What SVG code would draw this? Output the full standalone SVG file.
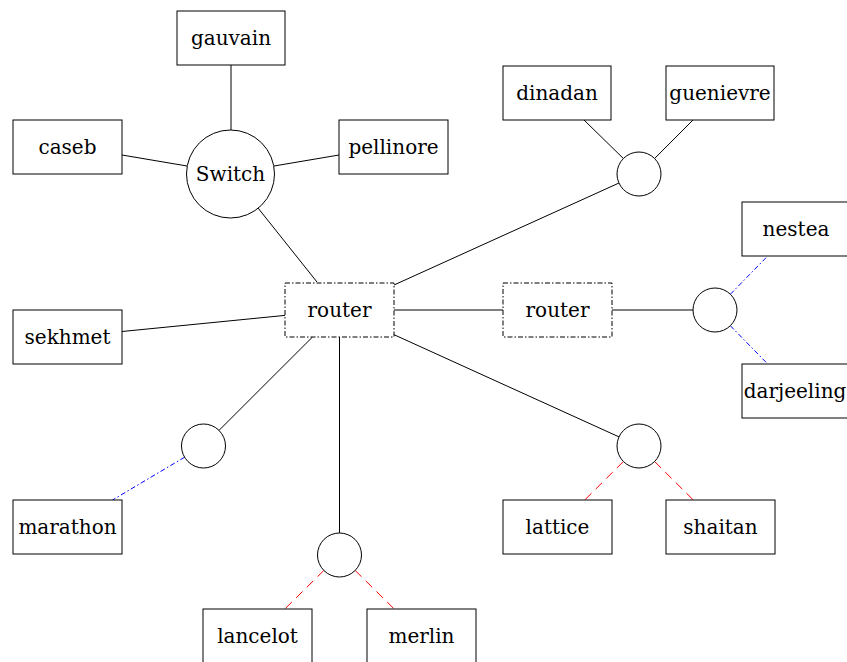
<svg xmlns="http://www.w3.org/2000/svg" width="847" height="662" viewBox="0 0 847 662">
<style>
.box{fill:#fff;stroke:#000;stroke-width:1}
.rt{fill:#fff;stroke:#000;stroke-width:1;stroke-dasharray:5 2 1.5 2}
.hub{fill:#fff;stroke:#000;stroke-width:1}
.t{font-family:"DejaVu Serif","Liberation Serif",serif;font-size:20px;text-anchor:middle;fill:#000}
.c{stroke:#000;stroke-width:1;fill:none}
.red{stroke:#ff0000;stroke-width:1;stroke-dasharray:9 6;fill:none}
.blue{stroke:#0000ff;stroke-width:1;stroke-dasharray:5 2.5 1.5 2.5;fill:none}
</style>
<rect width="847" height="662" fill="#fff"/>
<g id="connectors">
<line class="c" x1="231" y1="65" x2="231" y2="130"/>
<line class="c" x1="122" y1="155" x2="187" y2="166"/>
<line class="c" x1="274" y1="166" x2="339" y2="155"/>
<line class="c" x1="258" y1="208" x2="317" y2="282"/>
<line class="c" x1="394" y1="285" x2="619" y2="183"/>
<line class="c" x1="584" y1="120" x2="623.4" y2="158.5"/>
<line class="c" x1="693" y1="120" x2="654.6" y2="158.5"/>
<line class="c" x1="394" y1="310" x2="503" y2="310"/>
<line class="c" x1="612" y1="310" x2="693" y2="310"/>
<line class="blue" x1="730.4" y1="294.2" x2="767.7" y2="256"/>
<line class="blue" x1="730.4" y1="325.8" x2="767.7" y2="364"/>
<line class="c" x1="285" y1="315.4" x2="122" y2="331.5"/>
<line class="c" x1="312.5" y1="337" x2="219" y2="430.4"/>
<line class="blue" x1="184.6" y1="457.2" x2="112.5" y2="500"/>
<line class="c" x1="339.5" y1="337" x2="339.5" y2="533"/>
<line class="red" x1="323.9" y1="570.4" x2="284.8" y2="609"/>
<line class="red" x1="355.1" y1="570.4" x2="394.2" y2="609"/>
<line class="c" x1="394" y1="334.7" x2="619" y2="436.9"/>
<line class="red" x1="623.4" y1="461.5" x2="584.7" y2="500"/>
<line class="red" x1="654.6" y1="461.5" x2="693.3" y2="500"/>
</g>
<g id="gauvain"><rect class="box" x="177" y="11" width="108" height="54"/><text class="t" x="231" y="45">gauvain</text></g>
<g id="caseb"><rect class="box" x="13" y="120" width="109" height="54"/><text class="t" x="67.5" y="154">caseb</text></g>
<g id="pellinore"><rect class="box" x="339" y="120" width="109" height="54"/><text class="t" x="393.5" y="154">pellinore</text></g>
<g id="switch"><circle class="hub" cx="230.5" cy="174" r="44"/><text class="t" x="230.5" y="181">Switch</text></g>
<g id="dinadan"><rect class="box" x="503" y="66" width="108" height="54"/><text class="t" x="557" y="100">dinadan</text></g>
<g id="guenievre"><rect class="box" x="666" y="66" width="108" height="54"/><text class="t" x="720" y="100">guenievre</text></g>
<g id="hub-top"><circle class="hub" cx="639" cy="174" r="22"/></g>
<g id="nestea"><rect class="box" x="742" y="202" width="108" height="54"/><text class="t" x="796" y="236">nestea</text></g>
<g id="hub-right"><circle class="hub" cx="715" cy="310" r="22"/></g>
<g id="darjeeling"><rect class="box" x="742" y="364" width="108" height="54"/><text class="t" x="795" y="398">darjeeling</text></g>
<g id="router1"><rect class="rt" x="285" y="283" width="109" height="54"/><text class="t" x="339.5" y="317">router</text></g>
<g id="router2"><rect class="rt" x="503" y="283" width="109" height="54"/><text class="t" x="557.5" y="317">router</text></g>
<g id="sekhmet"><rect class="box" x="13" y="310" width="109" height="54"/><text class="t" x="67.5" y="344">sekhmet</text></g>
<g id="hub-left"><circle class="hub" cx="203.5" cy="446" r="22"/></g>
<g id="marathon"><rect class="box" x="13" y="500" width="109" height="54"/><text class="t" x="67.5" y="534">marathon</text></g>
<g id="hub-bottom"><circle class="hub" cx="339.5" cy="555" r="22"/></g>
<g id="lancelot"><rect class="box" x="203" y="609" width="109" height="54"/><text class="t" x="257.5" y="643">lancelot</text></g>
<g id="merlin"><rect class="box" x="367" y="609" width="109" height="54"/><text class="t" x="421.5" y="643">merlin</text></g>
<g id="hub-br"><circle class="hub" cx="639" cy="446" r="22"/></g>
<g id="lattice"><rect class="box" x="503" y="500" width="109" height="54"/><text class="t" x="557.5" y="534">lattice</text></g>
<g id="shaitan"><rect class="box" x="666" y="500" width="109" height="54"/><text class="t" x="720.5" y="534">shaitan</text></g>
</svg>
